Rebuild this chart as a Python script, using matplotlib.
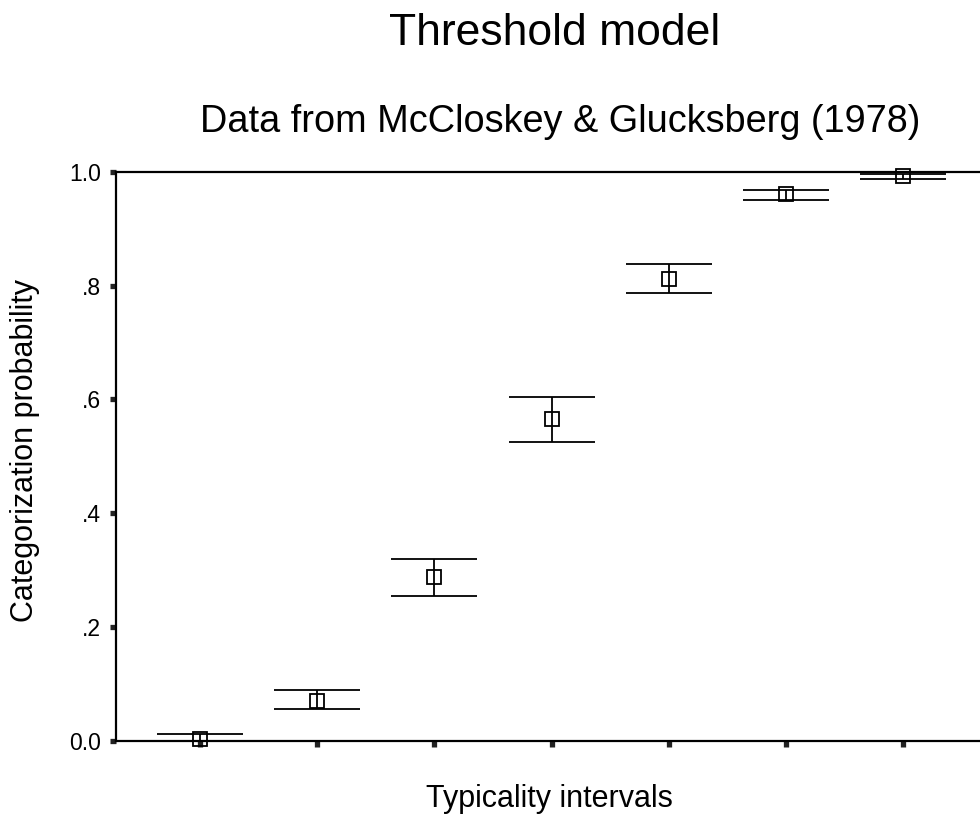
import numpy as np
import matplotlib
matplotlib.use("Agg")
import matplotlib.pyplot as plt

plt.rcParams['font.family'] = ['Liberation Sans', 'DejaVu Sans']

# Data
intervals = [1, 2, 3, 4, 5, 6, 7]
means = np.array([0.003, 0.070, 0.288, 0.565, 0.811, 0.962, 0.993])
upper = np.array([0.011, 0.089, 0.320, 0.605, 0.839, 0.969, 0.997])
lower = np.array([0.000, 0.055, 0.255, 0.525, 0.788, 0.950, 0.988])
ytick_vals = [0.0, 0.2, 0.4, 0.6, 0.8, 1.0]
ytick_labels = ['0.0', '.2', '.4', '.6', '.8', '1.0']

W, H = 980, 819
fig = plt.figure(figsize=(W / 100, H / 100), dpi=100)

ax_left_px, ax_right_px = 116, 1000
ax_top_px, ax_bot_px = 172, 740.5
ax = fig.add_axes([ax_left_px / W, (H - ax_bot_px) / H,
                   (ax_right_px - ax_left_px) / W, (ax_bot_px - ax_top_px) / H])

xpos = np.arange(len(intervals))
px_per_unit = 117.2
x0 = -(200 - ax_left_px) / px_per_unit
x1 = x0 + (ax_right_px - ax_left_px) / px_per_unit
ax.set_xlim(x0, x1)
ax.set_ylim(0, 1.0)

eb = ax.errorbar(xpos, means, yerr=[means - lower, upper - means], fmt='s',
                 mfc='none', mec='black', ms=10, mew=1.3,
                 ecolor='black', elinewidth=1.3, capsize=31, capthick=1.4,
                 color='black', clip_on=False, zorder=3)

for side in ['left', 'top', 'bottom']:
    ax.spines[side].set_linewidth(1.6)
    ax.spines[side].set_color('black')
ax.spines['right'].set_visible(False)

ax.set_xticks(xpos)
ax.set_xticklabels([])
ax.set_yticks(ytick_vals)
ax.set_yticklabels(ytick_labels, fontsize=16.5)
ax.tick_params(axis='both', direction='out', length=4, width=3.8, color='#222222')
ax.tick_params(axis='y', pad=7)

fig.text(555 / W, 1 - 45 / H, 'Threshold model', ha='center', va='baseline', fontsize=32)
fig.text(560 / W, 1 - 132 / H, 'Data from McCloskey & Glucksberg (1978)',
         ha='center', va='baseline', fontsize=27.3)
fig.text(549 / W, 1 - 806.7 / H, 'Typicality intervals', ha='center', va='baseline', fontsize=22)
fig.text(25.5 / W, 1 - 451 / H, 'Categorization probability', ha='center', va='center',
         rotation=90, fontsize=22)

fig.savefig('out.png', dpi=100)
